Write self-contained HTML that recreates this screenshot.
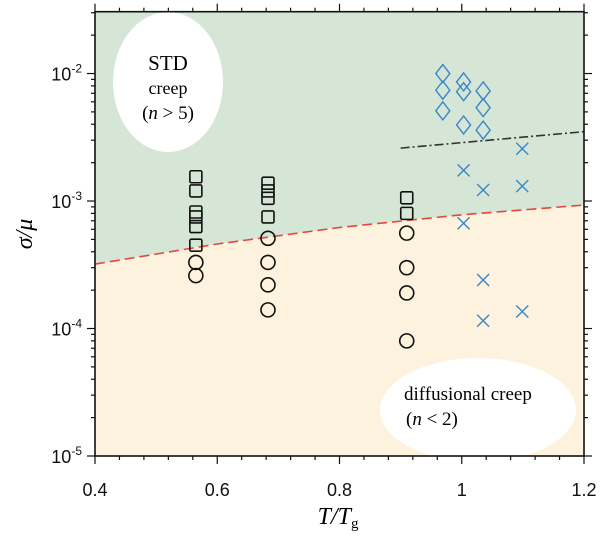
<!DOCTYPE html>
<html><head><meta charset="utf-8"><style>
body{margin:0;background:#fff;}
svg text{font-family:"Liberation Sans",sans-serif;}
.serif{font-family:"Liberation Serif",serif;}
</style></head><body>
<svg id="chart" width="600" height="534" viewBox="0 0 600 534" xmlns="http://www.w3.org/2000/svg">
<defs><clipPath id="pc"><rect x="95" y="11.7" width="489" height="444.3"/></clipPath></defs>
<g id="plot" clip-path="url(#pc)"></g>
<g id="axes"></g>
</svg>
<script>
const xTicks=[0.4,0.6,0.8,1.0,1.2];
const xTickLabels=["0.4","0.6","0.8","1","1.2"];
const yTicks=[-5,-4,-3,-2];
const sqT=[0.565,0.565,0.565,0.565,0.565,0.565,0.683,0.683,0.683,0.683,0.91,0.91];
const sqV=[1.55e-3,1.2e-3,8.2e-4,7.5e-4,6.3e-4,4.5e-4,1.38e-3,1.2e-3,1.05e-3,7.5e-4,1.06e-3,8.0e-4];
const ciT=[0.565,0.565,0.683,0.683,0.683,0.683,0.91,0.91,0.91,0.91];
const ciV=[3.3e-4,2.6e-4,5.1e-4,3.3e-4,2.2e-4,1.4e-4,5.6e-4,3.0e-4,1.9e-4,8e-5];
const diT=[0.969,0.969,0.969,1.003,1.003,1.003,1.035,1.035,1.035];
const diV=[1.0e-2,7.4e-3,5.1e-3,8.6e-3,7.2e-3,3.95e-3,7.3e-3,5.4e-3,3.6e-3];
const crT=[1.003,1.003,1.035,1.035,1.035,1.099,1.099,1.099];
const crV=[1.74e-3,6.7e-4,1.22e-3,2.4e-4,1.15e-4,2.57e-3,1.31e-3,1.36e-4];
const boundT=[0.4,0.6,0.8,1.0,1.2];
const boundV=[3.2e-4,4.6e-4,6.2e-4,7.8e-4,9.3e-4];
const dashT=[0.9,1.2];
const dashV=[2.6e-3,3.5e-3];

const X0=95,X1=584,Y0=456,Y1=11.7,xmin=0.4,xmax=1.2,lmin=-5,lmax=-1.515;
const xs=t=>X0+(t-xmin)/(xmax-xmin)*(X1-X0);
const ys=v=>Y0-(Math.log10(v)-lmin)/(lmax-lmin)*(Y0-Y1);
const yl=l=>Y0-(l-lmin)/(lmax-lmin)*(Y0-Y1);
const NS="http://www.w3.org/2000/svg";
function mk(tag,attrs,parent){const e=document.createElementNS(NS,tag);for(const k in attrs)e.setAttribute(k,attrs[k]);parent.appendChild(e);return e;}
const plot=document.getElementById('plot'),axes=document.getElementById('axes');

let bp=boundT.map((t,i)=>xs(t)+','+ys(boundV[i])).join(' ');
let g=mk('polygon',{points:X0+','+Y1+' '+bp+' '+X1+','+Y1,fill:'#d5e6d6'},plot);


let c=mk('polygon',{points:X0+','+Y0+' '+bp+' '+X1+','+Y0,fill:'#fcf2dd'},plot);


let e1=mk('ellipse',{cx:168,cy:82,rx:55,ry:70,fill:'#fff'},plot);


let e2=mk('ellipse',{cx:478,cy:410,rx:98,ry:52,fill:'#fff'},plot);


let bl=mk('polyline',{points:bp,fill:'none',stroke:'#e8453c','stroke-width':1.6,'stroke-dasharray':'10,5'},plot);


let dl=mk('polyline',{points:dashT.map((t,i)=>xs(t)+','+ys(dashV[i])).join(' '),fill:'none',stroke:'#333','stroke-width':1.6,'stroke-dasharray':'9,3,2,3'},axes);


sqT.forEach((t,i)=>{const x=xs(t),y=ys(sqV[i]);const m=mk('rect',{x:x-6,y:y-6,width:12,height:12,rx:1.5,fill:'none',stroke:'#111','stroke-width':1.6},axes);

});
ciT.forEach((t,i)=>{const m=mk('circle',{cx:xs(t),cy:ys(ciV[i]),r:7,fill:'none',stroke:'#111','stroke-width':1.6},axes);

});
diT.forEach((t,i)=>{const x=xs(t),y=ys(diV[i]);const m=mk('polygon',{points:`${x},${y-9} ${x+7},${y} ${x},${y+9} ${x-7},${y}`,fill:'none',stroke:'#3a86c8','stroke-width':1.4},axes);

});
crT.forEach((t,i)=>{const x=xs(t),y=ys(crV[i]);const m=mk('path',{d:`M${x-6},${y-6}L${x+6},${y+6}M${x-6},${y+6}L${x+6},${y-6}`,stroke:'#3a86c8','stroke-width':1.4,fill:'none'},axes);

});
let fr=mk('rect',{x:X0,y:Y1,width:X1-X0,height:Y0-Y1,fill:'none',stroke:'#111','stroke-width':1.6},axes);


for(let k=0;k<=20;k++){const t=0.4+k*0.04,x=xs(t),maj=k%5===0,L=maj?8:4;
mk('line',{x1:x,y1:Y0,x2:x,y2:Y0+L,stroke:'#111','stroke-width':1.2},axes);
mk('line',{x1:x,y1:Y1,x2:x,y2:Y1-L,stroke:'#111','stroke-width':1.2},axes);}
xTicks.forEach((t,i)=>{const tx=mk('text',{x:xs(t),y:496,'font-size':18,'text-anchor':'middle',fill:'#111'},axes);tx.textContent=xTickLabels[i];

});
for(let d=-5;d<=-2;d++){for(let m=1;m<=9;m++){const l=d+Math.log10(m);if(l>lmax)continue;const y=yl(l),L=m===1?8:4;
mk('line',{x1:X0,y1:y,x2:X0-L,y2:y,stroke:'#111','stroke-width':1.2},axes);
mk('line',{x1:X1,y1:y,x2:X1+L,y2:y,stroke:'#111','stroke-width':1.2},axes);}}
yTicks.forEach(d=>{const tx=mk('text',{x:82,y:yl(d)+7,'font-size':18,'text-anchor':'end',fill:'#111'},axes);
tx.innerHTML='10<tspan font-size="12" dy="-8">'+d+'</tspan>';

});
</script>
<svg style="position:absolute;left:0;top:0" width="600" height="534">
<text class="serif" x="338" y="524" font-size="24" font-style="italic" text-anchor="middle">T/T<tspan font-size="15" font-style="normal" dy="4">g</tspan></text>
<text class="serif" transform="translate(32,234) rotate(-90)" font-size="24" font-style="italic" text-anchor="middle">σ/μ</text>
<text class="serif" x="168" y="70" font-size="21" text-anchor="middle">STD</text>
<text class="serif" x="168" y="94" font-size="18" text-anchor="middle">creep</text>
<text class="serif" x="168" y="119" font-size="19" text-anchor="middle">(<tspan font-style="italic">n</tspan> &gt; 5)</text>
<text class="serif" x="404" y="400" font-size="19">diffusional creep</text>
<text class="serif" x="406" y="425" font-size="19">(<tspan font-style="italic">n</tspan> &lt; 2)</text>
</svg>
</body></html>
